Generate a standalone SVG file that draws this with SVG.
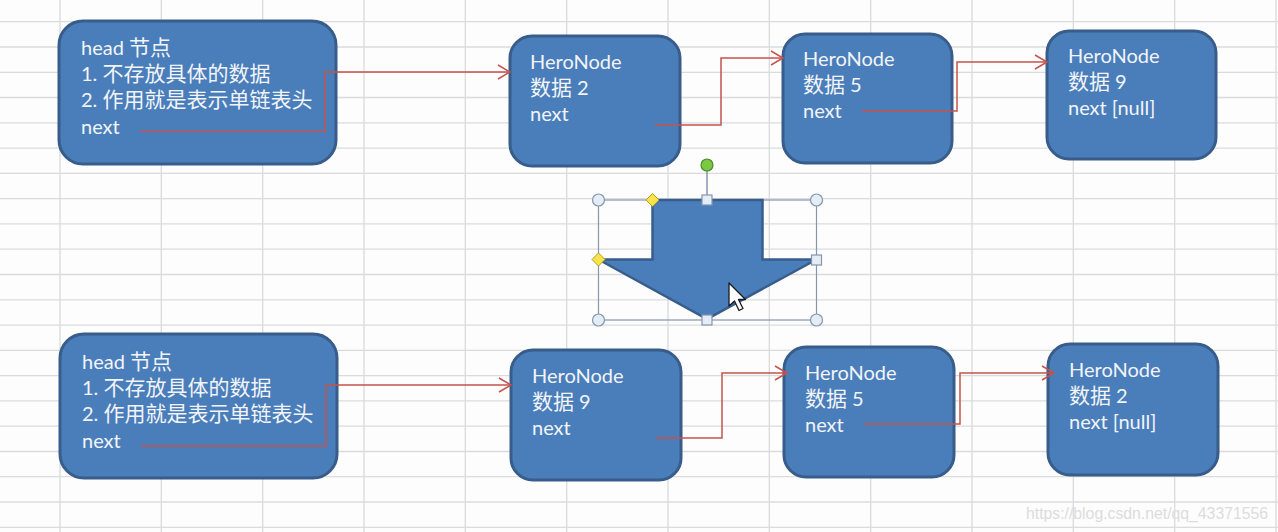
<svg xmlns="http://www.w3.org/2000/svg" width="1278" height="532" viewBox="0 0 1278 532">
<defs>
<style>
.grid line{stroke:#d9dbdc;stroke-width:1.3}
.node{fill:#4a7ebb;stroke:#385d8a;stroke-width:3}
.t{font-family:Lato,"Noto Sans CJK SC",sans-serif;font-size:20px;fill:#f2f4f8}
.c{font-size:21px}
.conn{fill:none;stroke:#c3534c;stroke-width:1.5}
.hc{fill:#e4edf5;stroke:#8596ad;stroke-width:1.2}
.hs{fill:#e4edf5;stroke:#8596ad;stroke-width:1.2}
.hd{fill:#f7e34b;stroke:#b89b1a;stroke-width:1}
</style>
<marker id="ah" markerUnits="userSpaceOnUse" markerWidth="16" markerHeight="18" refX="13" refY="8" orient="auto" viewBox="0 0 16 16">
<path d="M1,1 L13,8 L1,15" fill="none" stroke="#c3534c" stroke-width="1.5"/>
</marker>
</defs>
<rect width="1278" height="532" fill="#fdfdfd"/>
<g class="grid">
<line x1="60" y1="0" x2="60" y2="532"/>
<line x1="161.3" y1="0" x2="161.3" y2="532"/>
<line x1="262.7" y1="0" x2="262.7" y2="532"/>
<line x1="364" y1="0" x2="364" y2="532"/>
<line x1="465.3" y1="0" x2="465.3" y2="532"/>
<line x1="566.7" y1="0" x2="566.7" y2="532"/>
<line x1="668" y1="0" x2="668" y2="532"/>
<line x1="769.3" y1="0" x2="769.3" y2="532"/>
<line x1="870.7" y1="0" x2="870.7" y2="532"/>
<line x1="972" y1="0" x2="972" y2="532"/>
<line x1="1073.3" y1="0" x2="1073.3" y2="532"/>
<line x1="1174.7" y1="0" x2="1174.7" y2="532"/>
<line x1="1276" y1="0" x2="1276" y2="532"/>
<line x1="0" y1="21.7" x2="1278" y2="21.7"/>
<line x1="0" y1="47" x2="1278" y2="47"/>
<line x1="0" y1="72.3" x2="1278" y2="72.3"/>
<line x1="0" y1="97.5" x2="1278" y2="97.5"/>
<line x1="0" y1="122.8" x2="1278" y2="122.8"/>
<line x1="0" y1="148.1" x2="1278" y2="148.1"/>
<line x1="0" y1="173.4" x2="1278" y2="173.4"/>
<line x1="0" y1="198.7" x2="1278" y2="198.7"/>
<line x1="0" y1="223.9" x2="1278" y2="223.9"/>
<line x1="0" y1="249.2" x2="1278" y2="249.2"/>
<line x1="0" y1="274.5" x2="1278" y2="274.5"/>
<line x1="0" y1="299.8" x2="1278" y2="299.8"/>
<line x1="0" y1="325.1" x2="1278" y2="325.1"/>
<line x1="0" y1="350.3" x2="1278" y2="350.3"/>
<line x1="0" y1="375.6" x2="1278" y2="375.6"/>
<line x1="0" y1="400.9" x2="1278" y2="400.9"/>
<line x1="0" y1="426.2" x2="1278" y2="426.2"/>
<line x1="0" y1="451.5" x2="1278" y2="451.5"/>
<line x1="0" y1="476.7" x2="1278" y2="476.7"/>
<line x1="0" y1="502" x2="1278" y2="502"/>
<line x1="0" y1="527.3" x2="1278" y2="527.3"/>
</g>

<g id="head1">
<rect class="node" x="59" y="21" width="277" height="143" rx="24"/>
<text class="t" x="81" y="55">head <tspan class="c">节点</tspan></text>
<text class="t" x="81" y="81">1. <tspan class="c">不存放具体的数据</tspan></text>
<text class="t" x="81" y="107">2. <tspan class="c">作用就是表示单链表头</tspan></text>
<text class="t" x="81" y="134">next</text>
</g>
<g id="top-node2">
<rect class="node" x="510" y="36" width="170" height="130" rx="22"/>
<text class="t" x="530" y="69">HeroNode</text>
<text class="t" x="530" y="95"><tspan class="c">数据</tspan> 2</text>
<text class="t" x="530" y="121">next</text>
</g>
<g id="top-node5">
<rect class="node" x="783" y="34" width="169" height="129" rx="22"/>
<text class="t" x="803" y="66">HeroNode</text>
<text class="t" x="803" y="92"><tspan class="c">数据</tspan> 5</text>
<text class="t" x="803" y="118">next</text>
</g>
<g id="top-node9">
<rect class="node" x="1047" y="31" width="169" height="128" rx="22"/>
<text class="t" x="1068" y="63">HeroNode</text>
<text class="t" x="1068" y="89"><tspan class="c">数据</tspan> 9</text>
<text class="t" x="1068" y="115">next [null]</text>
</g>

<g id="head2">
<rect class="node" x="60" y="334" width="277" height="144" rx="24"/>
<text class="t" x="82" y="369">head <tspan class="c">节点</tspan></text>
<text class="t" x="82" y="395">1. <tspan class="c">不存放具体的数据</tspan></text>
<text class="t" x="82" y="421">2. <tspan class="c">作用就是表示单链表头</tspan></text>
<text class="t" x="82" y="448">next</text>
</g>
<g id="bottom-node9">
<rect class="node" x="511" y="350" width="170" height="130" rx="22"/>
<text class="t" x="532" y="383">HeroNode</text>
<text class="t" x="532" y="409"><tspan class="c">数据</tspan> 9</text>
<text class="t" x="532" y="435">next</text>
</g>
<g id="bottom-node5">
<rect class="node" x="784" y="347" width="170" height="130" rx="22"/>
<text class="t" x="805" y="380">HeroNode</text>
<text class="t" x="805" y="406"><tspan class="c">数据</tspan> 5</text>
<text class="t" x="805" y="432">next</text>
</g>
<g id="bottom-node2">
<rect class="node" x="1048" y="344" width="170" height="131" rx="22"/>
<text class="t" x="1069" y="377">HeroNode</text>
<text class="t" x="1069" y="403"><tspan class="c">数据</tspan> 2</text>
<text class="t" x="1069" y="429">next [null]</text>
</g>

<g id="connectors">
<polyline class="conn" points="140,131.5 325,131.5 325,72 510,72" marker-end="url(#ah)"/>
<polyline class="conn" points="655,125 721,125 721,58 783,58" marker-end="url(#ah)"/>
<polyline class="conn" points="862,111 957,111 957,62 1047,62" marker-end="url(#ah)"/>
<polyline class="conn" points="141,446 326,446 326,385 511,385" marker-end="url(#ah)"/>
<polyline class="conn" points="656,438 722,438 722,373 787,373" marker-end="url(#ah)"/>
<polyline class="conn" points="864,424 960,424 960,373 1054,373" marker-end="url(#ah)"/>
</g>

<g id="down-arrow">
<rect x="598.5" y="200" width="218" height="120" fill="none" stroke="#8596ad" stroke-width="1.2"/>
<polygon points="652.5,200 762.5,200 762.5,259.5 816.5,259.5 707,319 598.5,259.5 652.5,259.5" fill="#4a7ebb" stroke="#385d8a" stroke-width="2.5" stroke-linejoin="miter"/>
<line x1="707" y1="171" x2="707" y2="200" stroke="#8596ad" stroke-width="1.5"/>
<circle cx="707" cy="165" r="6" fill="#7ac943" stroke="#4c8a2a" stroke-width="1.2"/>
<circle class="hc" cx="598.5" cy="200" r="6"/>
<circle class="hc" cx="816.5" cy="200" r="6"/>
<circle class="hc" cx="598.5" cy="320" r="6"/>
<circle class="hc" cx="816.5" cy="320" r="6"/>
<rect class="hs" x="702" y="195" width="10" height="10"/>
<rect class="hs" x="702" y="315" width="10" height="10"/>
<rect class="hs" x="811.5" y="255" width="10" height="10"/>
<polygon class="hd" points="652.5,193.5 659,200 652.5,206.5 646,200"/>
<polygon class="hd" points="598.5,253 605,259.5 598.5,266 592,259.5"/>
<polygon points="729,283 729,306 734.5,301 739,310.5 743,308.5 738.5,299.5 745.5,299.5" fill="#ffffff" stroke="#1a1a1a" stroke-width="1.3" stroke-linejoin="round"/>
</g>

<text x="1026" y="519" font-family="'Liberation Sans',Arial,sans-serif" font-size="16" fill="#dcdcdc" textLength="242" lengthAdjust="spacingAndGlyphs">https://blog.csdn.net/qq_43371556</text>
</svg>
